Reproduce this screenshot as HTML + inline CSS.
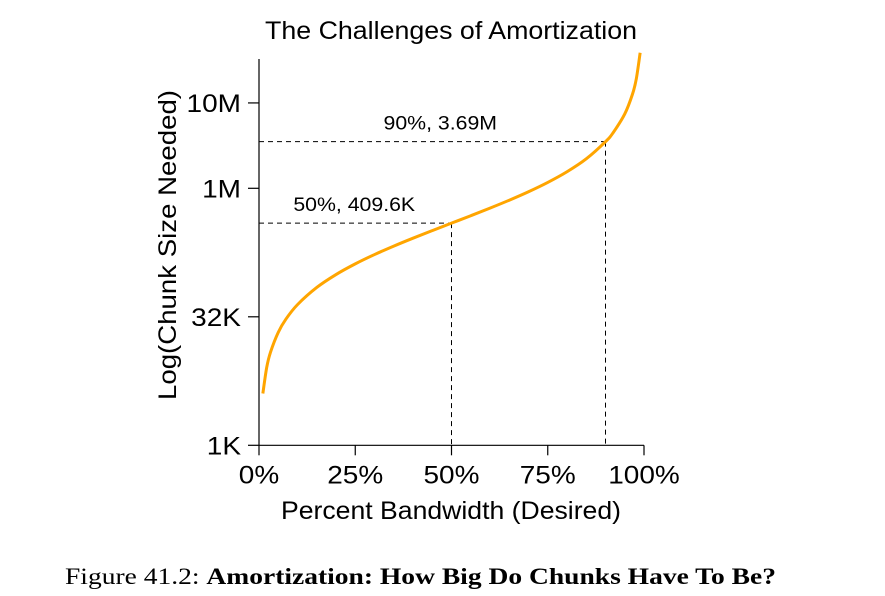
<!DOCTYPE html>
<html><head><meta charset="utf-8"><style>
html,body{margin:0;padding:0;background:#fff;width:885px;height:596px;overflow:hidden}
svg{display:block}
text{font-family:"Liberation Sans",Arial,sans-serif;fill:#000}
</style></head><body>
<svg id="chart" width="885" height="596">
<text x="265" y="39" font-size="25" textLength="372" lengthAdjust="spacingAndGlyphs">The Challenges of Amortization</text>
<text x="65" y="584" font-size="23" textLength="711" lengthAdjust="spacingAndGlyphs" style="font-family:'Liberation Serif',serif">Figure 41.2: <tspan font-weight="bold">Amortization: How Big Do Chunks Have To Be?</tspan></text>
<text transform="translate(176,400) rotate(-90)" font-size="25" textLength="310" lengthAdjust="spacingAndGlyphs">Log(Chunk Size Needed)</text>
<text x="281" y="519" font-size="25" textLength="340" lengthAdjust="spacingAndGlyphs">Percent Bandwidth (Desired)</text>
<g id="axes"></g>
<g id="marks"></g>
</svg>
<script>
const percents=[1,2,3,5,7,10,15,20,25,30,35,40,45,50,55,60,65,70,75,80,85,90,92,95,97,98,99];
const chunkBytes=[4137,8359,12668,21558,30830,45511,72282,102400,136533,175543,220554,273067,335127,409600,500622,614400,760686,955733,1228800,1638400,2321067,3686400,4710400,7782400,13243733,20070400,40550400];
const yTickValues=[1024,32768,1048576,10485760];
const yTickLabels=["1K","32K","1M","10M"];
const xTickValues=[0,25,50,75,100];
const xTickLabels=["0%","25%","50%","75%","100%"];
const markerPercents=[50,90];
const markerValues=[409600,3686400];
const markerLabels=["50%, 409.6K","90%, 3.69M"];

const NS="http://www.w3.org/2000/svg";
const X0=259,X1=644,YB=445.3,PX=25.7;
function xs(p){return X0+(X1-X0)*p/100;}
function ys(v){return YB-Math.log2(v/1024)*PX;}
function mk(tag,attrs,parent){const e=document.createElementNS(NS,tag);for(const k in attrs)e.setAttribute(k,attrs[k]);parent.appendChild(e);return e;}
const axes=document.getElementById('axes'),marks=document.getElementById('marks');

let a=mk('line',{x1:X0,y1:59,x2:X0,y2:YB,stroke:'#000','stroke-width':1.2},axes);


a=mk('line',{x1:X0,y1:YB,x2:X1,y2:YB,stroke:'#000','stroke-width':1.2},axes);


yTickValues.forEach((v,i)=>{
 const y=ys(v);
 const t=mk('line',{x1:X0-11,y1:y,x2:X0,y2:y,stroke:'#000','stroke-width':1.2},axes);
 
 
 const l=mk('text',{x:X0-18,y:y+9,'font-size':25,'text-anchor':'end',transform:'translate('+(X0-18)+',0) scale(1.12,1) translate('+(-(X0-18))+',0)'},axes);
 l.textContent=yTickLabels[i];
 
 
});
xTickValues.forEach((p,i)=>{
 const x=xs(p);
 const t=mk('line',{x1:x,y1:YB,x2:x,y2:YB+10,stroke:'#000','stroke-width':1.2},axes);
 
 
 const l=mk('text',{x:x,y:YB+38,'font-size':25,'text-anchor':'middle',transform:'translate('+x+',0) scale(1.12,1) translate('+(-x)+',0)'},axes);
 l.textContent=xTickLabels[i];
 
 
});
markerPercents.forEach((p,i)=>{
 const x=xs(p),y=ys(markerValues[i]);
 const h=mk('line',{x1:X0,y1:y,x2:x,y2:y,stroke:'#000','stroke-width':1,'stroke-dasharray':'5,4'},marks);
 
 
 const v=mk('line',{x1:x,y1:y,x2:x,y2:YB,stroke:'#000','stroke-width':1,'stroke-dasharray':'5,4'},marks);
 
 
 const cx=(X0+x)/2+(i?8:-1);
 const l=mk('text',{x:cx,y:y-12,'font-size':19,'text-anchor':'middle',transform:'translate('+cx+',0) scale(1.12,1) translate('+(-cx)+',0)'},marks);
 l.textContent=markerLabels[i];
 
 
});
const pts=percents.map((p,i)=>[xs(p),ys(chunkBytes[i])]);
let d='M'+pts[0][0]+','+pts[0][1];
for(let i=0;i<pts.length-1;i++){
 const p0=pts[Math.max(0,i-1)],p1=pts[i],p2=pts[i+1],p3=pts[Math.min(pts.length-1,i+2)];
 const c1=[p1[0]+(p2[0]-p0[0])/6,p1[1]+(p2[1]-p0[1])/6],c2=[p2[0]-(p3[0]-p1[0])/6,p2[1]-(p3[1]-p1[1])/6];
 d+=' C'+c1+' '+c2+' '+p2;
}
const c=mk('path',{d:d,fill:'none',stroke:'#FFA500','stroke-width':3},marks);


</script>
</body></html>
